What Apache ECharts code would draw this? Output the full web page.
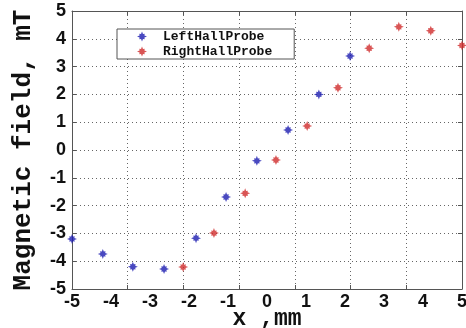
<!DOCTYPE html>
<html><head><meta charset="utf-8">
<script src="https://cdn.jsdelivr.net/npm/echarts@6/dist/echarts.min.js"></script>
<style>html,body{margin:0;padding:0;background:#fff}#c{width:466px;height:328px}</style>
</head><body><div id="c"></div>
<script>
const leftX = [-5, -4.21, -3.44, -2.64, -1.82, -1.05, -0.26, 0.54, 1.33, 2.13];
const leftY = [-3.2, -3.74, -4.2, -4.28, -3.17, -1.69, -0.39, 0.72, 2.0, 3.38];
const rightX = [-2.15, -1.36, -0.56, 0.23, 1.03, 1.82, 2.62, 3.38, 4.2, 5.0];
const rightY = [-4.21, -2.99, -1.56, -0.36, 0.86, 2.24, 3.66, 4.43, 4.29, 3.76];
const seriesNames = ['LeftHallProbe', 'RightHallProbe'];
const xTitle = 'x ,mm';
const yTitle = 'Magnetic field, mT';

const star = 'path://M5,0L6,2.6L7.69,2.31L7.4,4L10,5L7.4,6L7.69,7.69L6,7.4L5,10L4,7.4L2.31,7.69L2.6,6L0,5L2.6,4L2.31,2.31L4,2.6Z';
const gridLine = {show: true, lineStyle: {type: [1, 3], color: '#666', width: 1}};
const boxLine = {show: true, onZero: false, lineStyle: {color: '#555', width: 1}};
const tickFont = {fontFamily: 'Liberation Sans', fontWeight: 'bold', fontSize: 18, color: '#111'};
const tick = {show: true, inside: true, length: 4, lineStyle: {color: '#555'}};
const zip = (a, b) => a.map((v, i) => [v, b[i]]);

const chart = echarts.init(document.getElementById('c'));
chart.setOption({
  animation: false,
  backgroundColor: '#fff',
  grid: {left: 72, right: 4, top: 11, bottom: 39, containLabel: false, outerBoundsMode: 'none'},
  legend: {
    data: seriesNames.map(n => ({name: n, icon: star})),
    orient: 'vertical', left: 117, top: 29,
    borderColor: '#555', borderWidth: 1, backgroundColor: '#fff',
    padding: [1, 22, 1, 20], itemGap: 2, itemWidth: 10, itemHeight: 10,
    textStyle: {fontFamily: 'Liberation Mono', fontWeight: 'bold', fontSize: 13, color: '#111', padding: [0, 0, 0, 11]}
  },
  xAxis: [
    {type: 'value', min: -5, max: 5, interval: 1, position: 'bottom',
     axisLine: boxLine, axisTick: {show: false}, splitLine: {show: false},
     axisLabel: Object.assign({margin: 4}, tickFont),
     name: xTitle, nameLocation: 'middle', nameGap: 19, nameMoveOverlap: false,
     nameTextStyle: {fontFamily: 'Liberation Mono', fontWeight: 'bold', fontSize: 23, color: '#111'}},
    {type: 'value', min: -5, max: 5, interval: 10 / 7, position: 'bottom',
     axisLine: {show: false, onZero: false}, axisLabel: {show: false},
     axisTick: tick, splitLine: gridLine},
    {type: 'value', min: -5, max: 5, interval: 10 / 7, position: 'top',
     axisLine: boxLine, axisLabel: {show: false},
     axisTick: tick, splitLine: {show: false}}
  ],
  yAxis: [
    {type: 'value', min: -5, max: 5, interval: 1, position: 'left',
     axisLine: boxLine, axisTick: tick,
     splitLine: gridLine, axisLabel: Object.assign({margin: 6}, tickFont),
     name: yTitle, nameLocation: 'middle', nameGap: 36, nameMoveOverlap: false,
     nameTextStyle: {fontFamily: 'Liberation Mono', fontWeight: 'bold', fontSize: 26, color: '#111'}},
    {type: 'value', min: -5, max: 5, interval: 1, position: 'right',
     axisLine: boxLine, axisLabel: {show: false},
     axisTick: tick, splitLine: {show: false}}
  ],
  series: [
    {name: seriesNames[0], type: 'scatter', data: zip(leftX, leftY), symbol: star, symbolSize: 10,
     itemStyle: {color: '#1c1cb0'}},
    {name: seriesNames[1], type: 'scatter', data: zip(rightX, rightY), symbol: star, symbolSize: 10,
     itemStyle: {color: '#d02a2a'}}
  ]
});
</script></body></html>
